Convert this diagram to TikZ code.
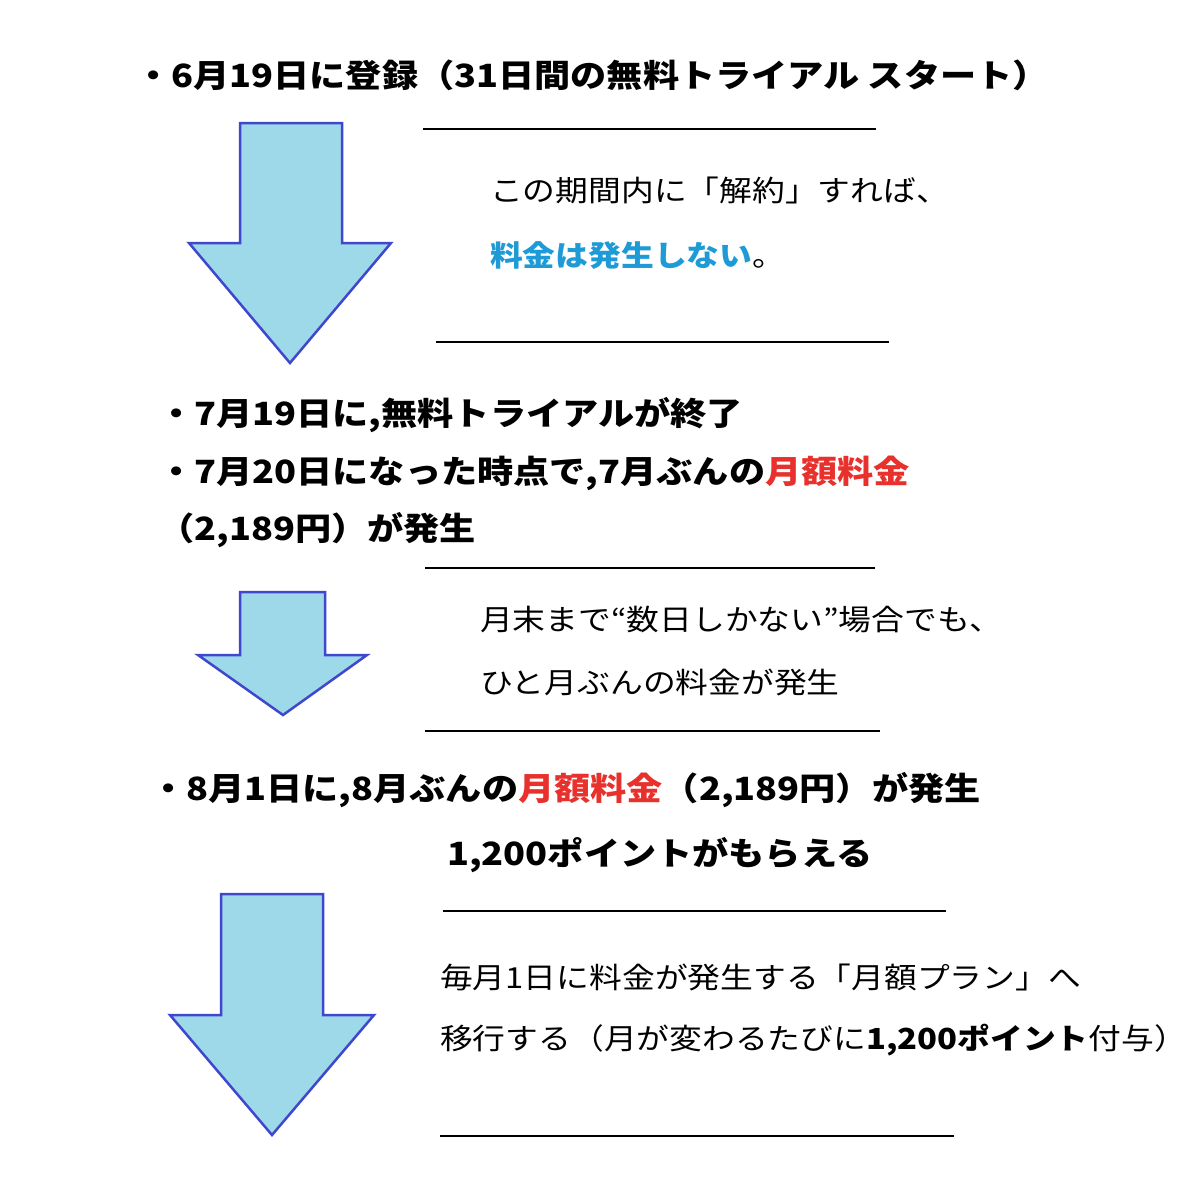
\documentclass[tikz,border=0pt]{standalone}
\usepackage{fontspec}
\setmainfont{Noto Sans CJK JP}[FakeStretch=1.13]
\definecolor{arrfill}{HTML}{9ED9EA}
\definecolor{arrline}{HTML}{3F48CC}
\definecolor{myblue}{HTML}{1E9BD7}
\definecolor{myred}{HTML}{E8302C}
\begin{document}
\begin{tikzpicture}[x=1pt,y=-1pt,
  barrow/.style={fill=arrfill,draw=arrline,line width=2.5pt,line join=miter},
  rule/.style={line width=2.5pt,black},
  bt/.style={anchor=west,inner sep=0,font=\fontsize{32}{36}\selectfont\bfseries},
  rt/.style={anchor=west,inner sep=0,font=\fontsize{29}{34}\selectfont}]
\useasboundingbox[fill=white] (0,0) rectangle (1200,1189);
\draw[barrow] (240,123)--(342,123)--(342,243)--(391,243)--(290,363)--(189,243)--(240,243)--cycle;
\draw[barrow] (240,592)--(325,592)--(325,655)--(367,655)--(283,715)--(198,655)--(240,655)--cycle;
\draw[barrow] (221,894)--(323,894)--(323,1015)--(374,1015)--(272,1135)--(170,1015)--(221,1015)--cycle;
\coordinate (l1a) at (423,129); \coordinate (l1b) at (876,129);
\coordinate (l2a) at (436,342); \coordinate (l2b) at (889,342);
\coordinate (l3a) at (425,568); \coordinate (l3b) at (875,568);
\coordinate (l4a) at (425,731); \coordinate (l4b) at (880,731);
\coordinate (l5a) at (443,911); \coordinate (l5b) at (946,911);
\coordinate (l6a) at (440,1136); \coordinate (l6b) at (954,1136);
\foreach \i in {1,...,6} \draw[rule] (l\i a)--(l\i b);
\node[bt] (t1) at (135,75) {・6月19日に登録（31日間の無料トライアル スタート）};
\node[rt] (t2) at (490,190) {この期間内に「解約」すれば、};
\node[rt] (t3) at (490,255) {\textcolor{myblue}{\bfseries 料金は発生しない}。};
\node[bt] (t4) at (158,415) {・7月19日に,無料トライアルが終了};
\node[bt] (t5) at (158,473) {・7月20日になった時点で,7月ぶんの\textcolor{myred}{月額料金}};
\node[bt] (t6) at (158,530) {（2,189円）が発生};
\node[rt] (t7) at (480,620) {月末まで“数日しかない”場合でも、};
\node[rt] (t8) at (480,682) {ひと月ぶんの料金が発生};
\node[bt] (t9) at (150,790) {・8月1日に,8月ぶんの\textcolor{myred}{月額料金}（2,189円）が発生};
\node[bt] (t10) at (447,855) {1,200ポイントがもらえる};
\node[rt] (t11) at (440,977) {毎月1日に料金が発生する「月額プラン」へ};
\node[rt] (t12) at (440,1040) {移行する（月が変わるたびに\textbf{1,200ポイント}付与）};
\end{tikzpicture}
\end{document}
